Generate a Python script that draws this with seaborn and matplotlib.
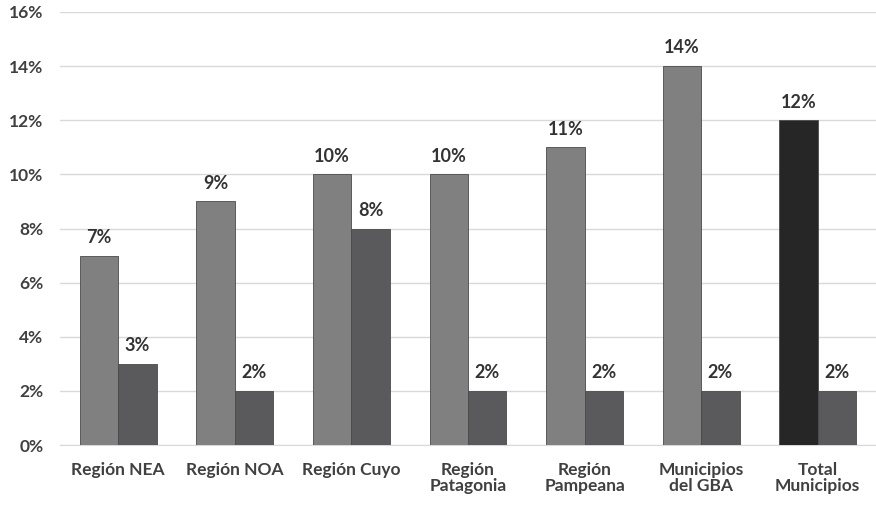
import pandas as pd
import matplotlib.pyplot as plt
import seaborn as sns

# Chart values (percent)
categories = ['Región NEA', 'Región NOA', 'Región Cuyo', 'Región\nPatagonia',
              'Región\nPampeana', 'Municipios\ndel GBA', 'Total\nMunicipios']
serie_a = [7, 9, 10, 10, 11, 14, 12]
serie_b = [3, 2, 8, 2, 2, 2, 2]
series = ['A', 'B']

data = pd.DataFrame({
    'categoria': categories * 2,
    'serie': [series[0]] * len(categories) + [series[1]] * len(categories),
    'valor': serie_a + serie_b,
})

sns.set_style('white')
plt.rcParams['font.family'] = ['Lato', 'DejaVu Sans']

fig = plt.figure(figsize=(8.76, 5.07), dpi=100)
ax = fig.add_axes([60 / 876, 1 - 445 / 507, 1 - 60 / 876, (445 - 12) / 507])

sns.barplot(x='categoria', y='valor', hue='serie', data=data, ax=ax,
            palette=['#808081', '#5a5a5c'], width=0.66, saturation=1,
            edgecolor='#4a4a4a', linewidth=0.6, legend=False, zorder=3)

# the total bar of the first series is drawn darker
bars_a = ax.containers[0]
bars_a[len(categories) - 1].set_facecolor('#262626')

for cont in ax.containers:
    labels = [f'{v:.0f}%' for v in cont.datavalues]
    ax.bar_label(cont, labels=labels, padding=7, fontsize=13,
                 fontweight='bold', color='#333333')

ax.set_ylim(0, 16)
ax.set_xlim(-0.5, len(categories) - 0.5)
ax.set_yticks(range(0, 17, 2))
ax.set_yticklabels([f'{t}%' for t in range(0, 17, 2)])
ax.yaxis.grid(True, color='#d9d9d9', linewidth=1, zorder=0)
ax.set_xlabel('')
ax.set_ylabel('')

for side in ['top', 'right', 'left']:
    ax.spines[side].set_visible(False)
ax.spines['bottom'].set_color('#d9d9d9')

ax.tick_params(axis='y', length=0, pad=12, labelsize=12.5, labelcolor='#404040')
ax.tick_params(axis='x', length=0, pad=12, labelsize=12.5, labelcolor='#404040')
for lab in ax.get_xticklabels() + ax.get_yticklabels():
    lab.set_fontweight('bold')
for lab in ax.get_xticklabels():
    lab.set_linespacing(1.0)

# small separator ticks between categories
ax.set_xticks([i + 0.5 for i in range(-1, len(categories))], minor=True)
ax.tick_params(axis='x', which='minor', length=5, color='#d9d9d9', width=1)

fig.savefig('out.png', dpi=100)
